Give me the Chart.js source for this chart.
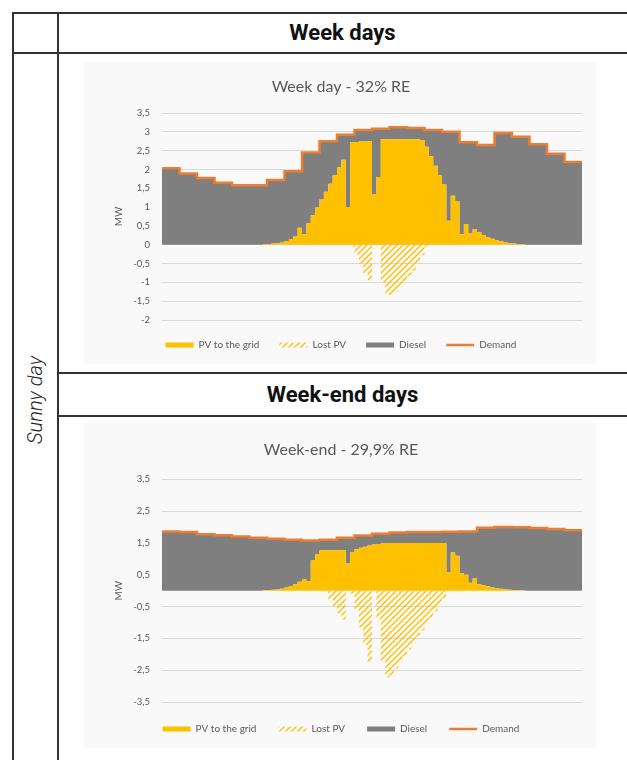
<!DOCTYPE html>
<html>
<head>
<meta charset="utf-8">
<script src="https://cdn.jsdelivr.net/npm/chart.js@4/dist/chart.umd.min.js"></script>
<style>
  html, body { margin: 0; padding: 0; background: #fff; }
  body { width: 627px; height: 760px; position: relative; overflow: hidden; font-family: Roboto, sans-serif; }
  .line { position: absolute; background: #333; }
  .head { position: absolute; left: 58px; width: 569px; text-align: center; font-weight: 700; font-size: 22px; color: #111; }
  .side { position: absolute; width: 300px; height: 26px; line-height: 26px; text-align: center;
          font-style: italic; font-weight: 300; font-size: 20px; color: #222; transform: rotate(-90deg); }
  .panel { position: absolute; left: 84px; width: 512px; background: #f9f9f9; }
  canvas { position: absolute; }
</style>
</head>
<body>

<div class="line" style="left:12px; top:12px; width:620px; height:2px;"></div>
<div class="line" style="left:12px; top:52px; width:620px; height:2px;"></div>
<div class="line" style="left:58px; top:372px; width:574px; height:2px;"></div>
<div class="line" style="left:58px; top:415px; width:574px; height:2px;"></div>
<div class="line" style="left:12px; top:12px; width:2px; height:760px;"></div>
<div class="line" style="left:57px; top:12px; width:2px; height:760px;"></div>

<div class="head" style="top:13px; height:40px; line-height:40px;">Week days</div>
<div class="head" style="top:374px; height:42px; line-height:42px;">Week-end days</div>
<div class="side" style="left:-115px; top:387px;">Sunny day</div>

<div class="panel" style="top:62px; height:302px;"></div>
<div class="panel" style="top:422px; height:326px;"></div>

<canvas id="weekdayChart" width="495" height="298" style="left:100px; top:62px;"></canvas>
<canvas id="weekendChart" width="495" height="319" style="left:100px; top:425px;"></canvas>

<script>
// hourly demand (MW), 24 values
const weekdayDemand = [2.03, 1.89, 1.77, 1.65, 1.58, 1.58, 1.72, 1.95, 2.45, 2.75, 2.92, 3.05,
                       3.08, 3.12, 3.1, 3.05, 3.0, 2.72, 2.65, 2.97, 2.87, 2.67, 2.42, 2.2];
const weekendDemand = [1.86, 1.84, 1.77, 1.74, 1.7, 1.66, 1.63, 1.6, 1.58, 1.6, 1.66, 1.73,
                       1.79, 1.83, 1.84, 1.84, 1.85, 1.86, 1.98, 2.0, 1.99, 1.97, 1.94, 1.9];

// quarter-hour PV injected to the grid (MW), 96 values
const weekdayPvGrid = [
  0, 0, 0, 0, 0, 0, 0, 0, 0, 0, 0, 0, 0, 0, 0, 0, 0, 0, 0, 0, 0, 0, 0, 0.01,
  0.02, 0.03, 0.04, 0.06, 0.1, 0.15, 0.22, 0.45,
  0.28, 0.57, 0.78, 0.99, 1.2, 1.41, 1.62, 1.84,
  2.05, 2.26, 1.0, 2.73, 2.73, 2.74, 2.74, 2.75,
  1.35, 1.8, 2.8, 2.8, 2.8, 2.8, 2.8, 2.8,
  2.8, 2.8, 2.8, 2.78, 2.6, 2.35, 2.1, 1.85,
  1.6, 0.64, 1.3, 1.15, 0.28, 0.55, 0.3, 0.42,
  0.33, 0.25, 0.2, 0.16, 0.12, 0.09, 0.06, 0.04,
  0.03, 0.02, 0.01, 0, 0, 0, 0, 0,
  0, 0, 0, 0, 0, 0, 0, 0
];
const weekendPvGrid = [
  0, 0, 0, 0, 0, 0, 0, 0, 0, 0, 0, 0, 0, 0, 0, 0, 0, 0, 0, 0, 0, 0, 0, 0.01,
  0.02, 0.03, 0.04, 0.06, 0.1, 0.15, 0.2, 0.28,
  0.35, 0.3, 0.95, 1.15, 1.27, 1.27, 1.27, 1.27,
  1.27, 1.27, 0.85, 1.2, 1.3, 1.35, 1.38, 1.42,
  1.45, 1.47, 1.48, 1.5, 1.5, 1.5, 1.5, 1.5,
  1.5, 1.5, 1.5, 1.5, 1.5, 1.5, 1.5, 1.5,
  1.5, 0.58, 1.2, 1.1, 0.55, 0.5, 0.25, 0.38,
  0.2, 0.18, 0.14, 0.1, 0.08, 0.06, 0.04, 0.03,
  0.02, 0.01, 0.01, 0, 0, 0, 0, 0,
  0, 0, 0, 0, 0, 0, 0, 0
];

// quarter-hour curtailed PV (MW, negative), 96 values
const weekdayLostPv = [
  0, 0, 0, 0, 0, 0, 0, 0, 0, 0, 0, 0, 0, 0, 0, 0, 0, 0, 0, 0, 0, 0, 0, 0,
  0, 0, 0, 0, 0, 0, 0, 0,
  0, 0, 0, 0, 0, 0, 0, 0,
  0, 0, 0, -0.05, -0.25, -0.5, -0.75, -0.95,
  0, 0, -1.0, -1.33, -1.34, -1.25, -1.13, -0.98,
  -0.84, -0.69, -0.5, -0.28, -0.05, 0, 0, 0,
  0, 0, 0, 0, 0, 0, 0, 0,
  0, 0, 0, 0, 0, 0, 0, 0,
  0, 0, 0, 0, 0, 0, 0, 0,
  0, 0, 0, 0, 0, 0, 0, 0
];
const weekendLostPv = [
  0, 0, 0, 0, 0, 0, 0, 0, 0, 0, 0, 0, 0, 0, 0, 0, 0, 0, 0, 0, 0, 0, 0, 0,
  0, 0, 0, 0, 0, 0, 0, 0,
  0, 0, 0, 0, 0, -0.05, -0.27, -0.48,
  -0.7, -0.91, 0, -0.1, -0.6, -1.15, -1.7, -2.25,
  0, -0.9, -2.2, -2.72, -2.65, -2.45, -2.25, -2.05,
  -1.85, -1.65, -1.45, -1.25, -1.05, -0.85, -0.65, -0.45,
  -0.25, 0, 0, 0, 0, 0, 0, 0,
  0, 0, 0, 0, 0, 0, 0, 0,
  0, 0, 0, 0, 0, 0, 0, 0,
  0, 0, 0, 0, 0, 0, 0, 0
];

const weekdayTicks = [-2, -1.5, -1, -0.5, 0, 0.5, 1, 1.5, 2, 2.5, 3, 3.5];
const weekendTicks = [-3.5, -2.5, -1.5, -0.5, 0.5, 1.5, 2.5, 3.5];
const seriesNames = ['PV to the grid', 'Lost PV', 'Diesel', 'Demand'];

const COLORS = { pv: '#FFC000', diesel: '#7F7F7F', demand: '#ED7D31', text: '#595959', grid: '#D9D9D9' };

function hatch(color) {
    const c = document.createElement('canvas');
    c.width = 6;
    c.height = 6;
    const g = c.getContext('2d');
    g.strokeStyle = color;
    g.lineWidth = 1.4;
    g.beginPath();
    g.moveTo(-1, 7); g.lineTo(7, -1);
    g.moveTo(-4, 4); g.lineTo(4, -4);
    g.moveTo(2, 10); g.lineTo(10, 2);
    g.stroke();
    return g.createPattern(c, 'repeat');
}

// step series: value i holds from x=i*step to (i+1)*step
function steps(values, step) {
    const pts = values.map((v, i) => ({ x: i * step, y: v }));
    pts.push({ x: values.length * step, y: values[values.length - 1] });
    return pts;
}

function makeChart(id, title, demand, pvGrid, lostPv, ticks, titlePad, legendPad) {
    const diesel = pvGrid.map((v, i) => +(demand[Math.floor(i / 4)] - v).toFixed(3));
    const common = { stepped: true, pointRadius: 0, pointHoverRadius: 0, borderColor: 'transparent', borderWidth: 0 };

    return new Chart(document.getElementById(id), {
        type: 'line',
        data: {
            datasets: [
                { ...common, label: seriesNames[0], data: steps(pvGrid, 0.25), stack: 'supply', order: 1,
                  fill: 'origin', backgroundColor: COLORS.pv, pointStyle: 'rect' },
                { ...common, label: seriesNames[1], data: steps(lostPv, 0.25), stack: 'lost', order: 3,
                  fill: 'origin', backgroundColor: hatch(COLORS.pv), pointStyle: 'rect' },
                { ...common, label: seriesNames[2], data: steps(diesel, 0.25), stack: 'supply', order: 2,
                  fill: '-2', backgroundColor: COLORS.diesel, pointStyle: 'rect' },
                { label: seriesNames[3], data: steps(demand, 1), stack: 'demand', order: 0, stepped: true,
                  pointRadius: 0, pointHoverRadius: 0, fill: false, borderColor: COLORS.demand,
                  backgroundColor: COLORS.demand, borderWidth: 2.5, pointStyle: 'line' }
            ]
        },
        options: {
            responsive: false,
            animation: false,
            layout: { padding: { left: 0, right: 13, top: 0, bottom: 0 } },
            plugins: {
                title: {
                    display: true,
                    text: title,
                    color: COLORS.text,
                    font: { family: 'Lato', size: 16, weight: 'normal' },
                    padding: titlePad
                },
                legend: {
                    position: 'bottom',
                    labels: {
                        usePointStyle: true,
                        pointStyleWidth: 28,
                        boxHeight: 5,
                        padding: legendPad,
                        color: COLORS.text,
                        font: { family: 'Lato', size: 10 },
                        sort: (a, b) => a.datasetIndex - b.datasetIndex
                    }
                },
                tooltip: { enabled: false }
            },
            scales: {
                x: { type: 'linear', min: 0, max: 24, display: false },
                y: {
                    stacked: true,
                    min: ticks[0],
                    max: ticks[ticks.length - 1],
                    afterBuildTicks: scale => { scale.ticks = ticks.map(v => ({ value: v })); },
                    afterFit: scale => { scale.width = 62; },
                    border: { display: false },
                    grid: { color: COLORS.grid, drawTicks: false },
                    ticks: {
                        padding: 12,
                        color: COLORS.text,
                        font: { family: 'Lato', size: 9.5 },
                        callback: v => String(v).replace('.', ',')
                    },
                    title: {
                        display: true,
                        text: 'MW',
                        color: COLORS.text,
                        font: { family: 'Lato', size: 10 },
                        padding: { top: 13, bottom: 0 }
                    }
                }
            }
        }
    });
}

makeChart('weekdayChart', 'Week day - 32% RE', weekdayDemand, weekdayPvGrid, weekdayLostPv,
          weekdayTicks, { top: 15.4, bottom: 16.4 }, 20);
makeChart('weekendChart', 'Week-end - 29,9% RE', weekendDemand, weekendPvGrid, weekendLostPv,
          weekendTicks, { top: 15.4, bottom: 19.7 }, 22);
</script>
</body>
</html>
